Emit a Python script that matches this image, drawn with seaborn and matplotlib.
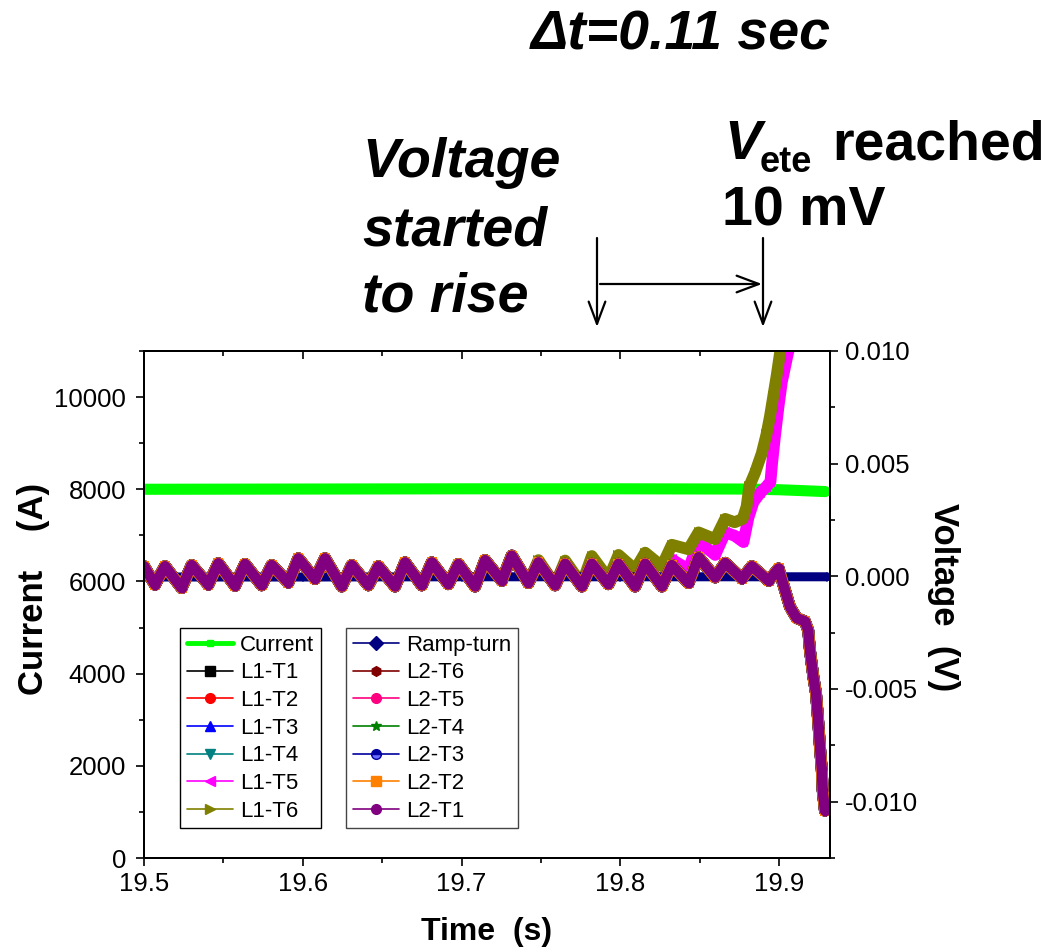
import numpy as np
import matplotlib
matplotlib.use("Agg")
import matplotlib.pyplot as plt
import seaborn as sns
from matplotlib.lines import Line2D
from matplotlib.ticker import MultipleLocator, FormatStrFormatter

# ---------------- data ----------------
# Current (A)
t_current = [19.500, 19.600, 19.700, 19.800, 19.880, 19.900, 19.915, 19.929]
current_A = [8000, 8005, 8010, 8010, 8005, 7990, 7970, 7950]

# Ramp-turn voltage (V)
t_ramp = [19.500, 19.600, 19.700, 19.800, 19.900, 19.930]
v_ramp = [-0.00003, -0.00003, -0.00002, -0.00002, -0.00002, -0.00002]

# Common ripple of the L1/L2 turn voltages (V)
t_common = [19.5000, 19.5069, 19.5132, 19.5237, 19.5300, 19.5405, 19.5468, 19.5573,
            19.5636, 19.5741, 19.5804, 19.5909, 19.5972, 19.6077, 19.6140, 19.6245,
            19.6308, 19.6413, 19.6476, 19.6581, 19.6644, 19.6749, 19.6812, 19.6917,
            19.6980, 19.7085, 19.7148, 19.7253, 19.7316, 19.7421, 19.7484, 19.7589,
            19.7652, 19.7757, 19.7820, 19.7925, 19.7988, 19.8093, 19.8156, 19.8261,
            19.8324, 19.8429, 19.8492, 19.8597, 19.8660, 19.8765, 19.8828, 19.8933,
            19.8996, 19.9068, 19.9110, 19.9162, 19.9183, 19.9194, 19.9215, 19.9232,
            19.9240, 19.9249, 19.9257, 19.9268, 19.9274, 19.9288]
v_common = [0.00045, -0.00037, 0.00045, -0.00052, 0.00050, -0.00037, 0.00058, -0.00042,
            0.00055, -0.00040, 0.00050, -0.00028, 0.00080, -0.00012, 0.00080, -0.00045,
            0.00050, -0.00040, 0.00045, -0.00045, 0.00062, -0.00040, 0.00062, -0.00035,
            0.00055, -0.00045, 0.00072, -0.00020, 0.00092, -0.00030, 0.00062, -0.00040,
            0.00056, -0.00045, 0.00056, -0.00035, 0.00056, -0.00045, 0.00056, -0.00045,
            0.00050, -0.00030, 0.00085, -0.00005, 0.00060, -0.00010, 0.00045, -0.00020,
            0.00035, -0.00136, -0.00185, -0.00200, -0.00240, -0.00330, -0.00445, -0.00520,
            -0.00590, -0.00675, -0.00760, -0.00855, -0.00950, -0.01040]

# L1-T6 diverging part (V)
t_l1t6_tail = [19.7484, 19.7589, 19.7652, 19.7757, 19.7820, 19.7925, 19.7988, 19.8093,
               19.8156, 19.8261, 19.8324, 19.8429, 19.8492, 19.8597, 19.8660, 19.8720,
               19.8770, 19.8795, 19.8812, 19.8848, 19.8890, 19.8920, 19.8942, 19.8963,
               19.8984, 19.9005, 19.9030]
v_l1t6_tail = [0.00072, -0.00038, 0.00070, -0.00035, 0.00090, -0.00010, 0.00095, 0.00030,
               0.00105, 0.00045, 0.00140, 0.00120, 0.00195, 0.00165, 0.00255, 0.00240,
               0.00255, 0.00310, 0.00400, 0.00460, 0.00545, 0.00630, 0.00710, 0.00800,
               0.00890, 0.00990, 0.01120]

# L1-T5 diverging part (V)
t_l1t5_tail = [19.8324, 19.8429, 19.8492, 19.8597, 19.8660, 19.8720, 19.8775, 19.8806,
               19.8838, 19.8880, 19.8915, 19.8945, 19.8955, 19.8973, 19.8995, 19.9016,
               19.9037, 19.9058, 19.9078]
v_l1t5_tail = [0.00075, 0.00030, 0.00155, 0.00095, 0.00195, 0.00180, 0.00152, 0.00260,
               0.00330, 0.00370, 0.00395, 0.00420, 0.00500, 0.00620, 0.00750, 0.00860,
               0.00930, 0.01000, 0.01110]

voltage_series = ["L1-T1", "L1-T2", "L1-T3", "L1-T4", "L1-T5", "L1-T6",
                  "Ramp-turn", "L2-T6", "L2-T5", "L2-T4", "L2-T3", "L2-T2", "L2-T1"]

# ---------------- styles ----------------
styles = {
    "Current":   dict(color="#00FF00", marker="s"),
    "L1-T1":     dict(color="#000000", marker="s"),
    "L1-T2":     dict(color="#FF0000", marker="o"),
    "L1-T3":     dict(color="#0000FF", marker="^"),
    "L1-T4":     dict(color="#008080", marker="v"),
    "L1-T5":     dict(color="#FF00FF", marker="<"),
    "L1-T6":     dict(color="#808000", marker=">"),
    "Ramp-turn": dict(color="#000080", marker="D"),
    "L2-T6":     dict(color="#800000", marker="h"),
    "L2-T5":     dict(color="#FF0080", marker="o"),
    "L2-T4":     dict(color="#008000", marker="*"),
    "L2-T3":     dict(color="#0000A0", marker="o"),
    "L2-T2":     dict(color="#FF8000", marker="s"),
    "L2-T1":     dict(color="#800080", marker="o"),
}


def series_data(name):
    tc = np.array(t_common)
    vc = np.array(v_common)
    if name == "Ramp-turn":
        return np.array(t_ramp), np.array(v_ramp)
    if name == "L1-T6":
        keep = tc < t_l1t6_tail[0]
        return np.concatenate([tc[keep], t_l1t6_tail]), np.concatenate([vc[keep], v_l1t6_tail])
    if name == "L1-T5":
        keep = tc < t_l1t5_tail[0]
        return np.concatenate([tc[keep], t_l1t5_tail]), np.concatenate([vc[keep], v_l1t5_tail])
    return tc, vc


# ---------------- figure ----------------
sns.set_style("ticks", {"axes.edgecolor": "black", "text.color": "black",
                        "xtick.color": "black", "ytick.color": "black",
                        "axes.labelcolor": "black"})
plt.rcParams["font.family"] = ["Liberation Sans", "DejaVu Sans"]
plt.rcParams["axes.unicode_minus"] = False
plt.rcParams["text.color"] = "black"

W, H = 1057, 951
fig = plt.figure(figsize=(W / 100, H / 100), dpi=100)
ax = fig.add_axes([144 / W, 1 - 858 / H, 686 / W, 507 / H])
ax2 = ax.twinx()

# Current on left axis
sns.lineplot(x=t_current, y=current_A, ax=ax, color=styles["Current"]["color"],
             linewidth=8, marker="s", markersize=4, markeredgewidth=0,
             estimator=None, sort=False, legend=False)

# Voltages on right axis
for name in voltage_series:
    t, v = series_data(name)
    st = styles[name]
    if name == "Ramp-turn":
        lw, ms = 6.5, 5
    elif name == "L2-T1":
        lw, ms = 7.5, 7
    else:
        lw, ms = 8.5, 7
    sns.lineplot(x=t, y=v, ax=ax2, color=st["color"], linewidth=lw,
                 marker=st["marker"], markersize=ms, markeredgewidth=0,
                 estimator=None, sort=False, legend=False)

# axes limits / ticks
ax.set_xlim(19.5, 19.932)
ax.set_ylim(0, 11000)
ax2.set_ylim(-0.0125, 0.010)
ax.xaxis.set_major_locator(MultipleLocator(0.1))
ax.xaxis.set_minor_locator(MultipleLocator(0.05))
ax.xaxis.set_major_formatter(FormatStrFormatter("%.1f"))
ax.yaxis.set_major_locator(MultipleLocator(2000))
ax.yaxis.set_minor_locator(MultipleLocator(1000))
ax2.yaxis.set_major_locator(MultipleLocator(0.005))
ax2.yaxis.set_minor_locator(MultipleLocator(0.0025))
ax2.yaxis.set_major_formatter(FormatStrFormatter("%.3f"))

for a in (ax, ax2):
    a.tick_params(which="major", direction="out", length=6, width=1.2,
                  labelsize=18.5, colors="black", pad=5)
    a.tick_params(which="minor", direction="out", length=3.5, width=1.2, colors="black")
    for s in a.spines.values():
        s.set_linewidth(1.4)
        s.set_color("black")
ax.tick_params(axis="y", pad=7)
ax.tick_params(axis="x", pad=4)

secx = ax.secondary_xaxis("top")
secx.xaxis.set_major_locator(MultipleLocator(0.1))
secx.xaxis.set_minor_locator(MultipleLocator(0.05))
secx.tick_params(which="major", direction="in", length=6, width=1.2, labeltop=False,
                 colors="black")
secx.tick_params(which="minor", direction="in", length=3.5, width=1.2, colors="black")
secx.spines["top"].set_linewidth(1.4)

ax.set_xlabel("Time  (s)", fontsize=23, fontweight="bold", labelpad=15, color="black")
ax.set_ylabel("Current    (A)", fontsize=25, fontweight="bold", color="black")
ax.yaxis.set_label_coords((50 - 144) / 686, (858 - 589) / 507)
ax2.set_ylabel("Voltage  (V)", fontsize=25, fontweight="bold", rotation=270,
               color="black")
ax2.yaxis.set_label_coords((960 - 144) / 686, (858 - 597) / 507)


# legends
def handle(name):
    st = styles[name]
    if name == "Current":
        return Line2D([], [], color=st["color"], lw=3.5, marker="s", markersize=5)
    if name == "L2-T3":
        return Line2D([], [], color=st["color"], lw=1.2, marker="o", markersize=7,
                      fillstyle="top", markerfacecoloralt="#6a6aff")
    return Line2D([], [], color=st["color"], lw=1.2, marker=st["marker"], markersize=7)


leg1_names = ["Current", "L1-T1", "L1-T2", "L1-T3", "L1-T4", "L1-T5", "L1-T6"]
leg2_names = ["Ramp-turn", "L2-T6", "L2-T5", "L2-T4", "L2-T3", "L2-T2", "L2-T1"]
leg_kw = dict(loc="upper left", fontsize=16, frameon=True, fancybox=False,
              framealpha=1, edgecolor="black", borderaxespad=0, handlelength=2.1,
              handletextpad=0.3, labelspacing=0.3, borderpad=0.3)
leg1 = ax2.legend([handle(n) for n in leg1_names], leg1_names,
                  bbox_to_anchor=((180 - 144) / 686, (858 - 628) / 507), **leg_kw)
leg1.get_frame().set_linewidth(1.0)
ax2.add_artist(leg1)
leg2 = ax2.legend([handle(n) for n in leg2_names], leg2_names,
                  bbox_to_anchor=((346 - 144) / 686, (858 - 628) / 507), **leg_kw)
leg2.get_frame().set_linewidth(1.0)
leg2.get_frame().set_edgecolor("#444444")


# annotations (figure pixel coordinates)
def ftext(x, y, s, **kw):
    fig.text(x / W, 1 - y / H, s, color="black", **kw)


ftext(681, 35, "\u0394t=0.11 sec", fontsize=40, fontweight="bold", style="italic",
      ha="center", va="center")
for txt, yb in [("Voltage", 177), ("started", 245), ("to rise", 311)]:
    ftext(362, yb, txt, fontsize=40, fontweight="bold", style="italic",
          ha="left", va="baseline")
ftext(724, 159, "V", fontsize=40, fontweight="bold", style="italic", ha="left", va="baseline")
ftext(760, 172, "ete", fontsize=26, fontweight="bold", ha="left", va="baseline")
ftext(832, 159, "reached", fontsize=40, fontweight="bold", ha="left", va="baseline")
ftext(722, 226, "10 mV", fontsize=40, fontweight="bold", ha="left", va="baseline")

arrow_kw = dict(arrowstyle="->,head_length=0.8,head_width=0.3", color="black", lw=1.6)
for (x0, y0, x1, y1) in [(597, 238, 597, 327), (763, 238, 763, 327), (600, 284, 762, 284)]:
    ax.annotate("", xy=(x1, H - y1), xycoords="figure pixels",
                xytext=(x0, H - y0), textcoords="figure pixels",
                arrowprops=dict(mutation_scale=20, shrinkA=0, shrinkB=0, **arrow_kw),
                annotation_clip=False)

fig.savefig("out.png", dpi=100)
